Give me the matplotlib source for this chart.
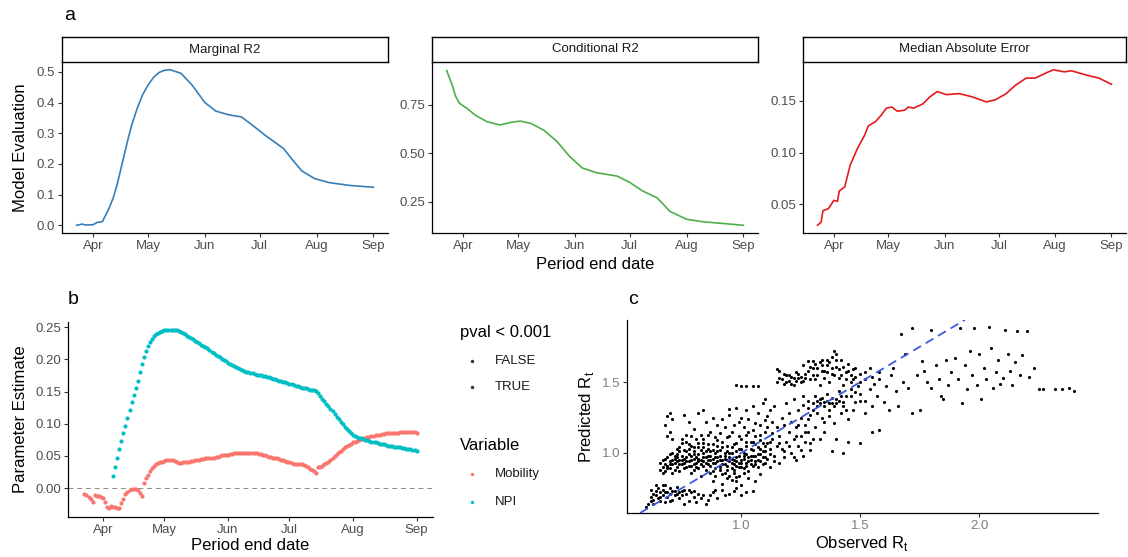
import numpy as np
import pandas as pd
import matplotlib
matplotlib.use("Agg")
import matplotlib.pyplot as plt
import matplotlib.dates as mdates

plt.rcParams['font.family'] = ['Liberation Sans', 'DejaVu Sans']

# ---------------- Panel a data ----------------
marg_dates = ["2020-03-23", "2020-03-26", "2020-03-28", "2020-04-01", "2020-04-03", "2020-04-06",
              "2020-04-08", "2020-04-10", "2020-04-12", "2020-04-14", "2020-04-16", "2020-04-18",
              "2020-04-20", "2020-04-22", "2020-04-25", "2020-04-28", "2020-05-01", "2020-05-04",
              "2020-05-07", "2020-05-10", "2020-05-13", "2020-05-19",
              "2020-05-25", "2020-06-01", "2020-06-07", "2020-06-14", "2020-06-21", "2020-06-27",
              "2020-07-04", "2020-07-14", "2020-07-19", "2020-07-24", "2020-07-31", "2020-08-08",
              "2020-08-19", "2020-09-01"]
marg_r2 = [0.000, 0.004, 0.001, 0.002, 0.009, 0.012, 0.035, 0.060, 0.090, 0.130, 0.180, 0.230,
           0.280, 0.325, 0.380, 0.425, 0.457, 0.482, 0.498, 0.505, 0.507, 0.495,
           0.457, 0.400, 0.372, 0.360, 0.353, 0.326,
           0.293, 0.250, 0.212, 0.177, 0.152, 0.139, 0.130, 0.124]

cond_dates = ["2020-03-23", "2020-03-26", "2020-03-28", "2020-03-30", "2020-04-03", "2020-04-08",
              "2020-04-14", "2020-04-21", "2020-04-27", "2020-05-02", "2020-05-08", "2020-05-15",
              "2020-05-22", "2020-05-29", "2020-06-05", "2020-06-13", "2020-06-24", "2020-07-01",
              "2020-07-08", "2020-07-16", "2020-07-23", "2020-08-01", "2020-08-10", "2020-08-21",
              "2020-09-01"]
cond_r2 = [0.928, 0.853, 0.793, 0.759, 0.733, 0.695, 0.664, 0.647, 0.660, 0.667, 0.655, 0.620,
           0.564, 0.486, 0.425, 0.400, 0.383, 0.350, 0.306, 0.270, 0.200, 0.160, 0.147, 0.138,
           0.129]

mae_dates = ["2020-03-23", "2020-03-25", "2020-03-26", "2020-03-29", "2020-04-01", "2020-04-03",
             "2020-04-04", "2020-04-07", "2020-04-10", "2020-04-14", "2020-04-18", "2020-04-20",
             "2020-04-24", "2020-04-27", "2020-04-30", "2020-05-03", "2020-05-06", "2020-05-10",
             "2020-05-12", "2020-05-15", "2020-05-20", "2020-05-24", "2020-05-28", "2020-06-02",
             "2020-06-09", "2020-06-16", "2020-06-24", "2020-06-29", "2020-07-05", "2020-07-10",
             "2020-07-16", "2020-07-21", "2020-07-27", "2020-07-31", "2020-08-06", "2020-08-10",
             "2020-08-18", "2020-08-25", "2020-09-01"]
mae_vals = [0.030, 0.033, 0.044, 0.046, 0.054, 0.053, 0.063, 0.067, 0.088, 0.104, 0.117, 0.126,
            0.130, 0.136, 0.143, 0.144, 0.140, 0.141, 0.144, 0.143, 0.147, 0.154, 0.159, 0.156,
            0.157, 0.154, 0.149, 0.151, 0.157, 0.165, 0.172, 0.172, 0.177, 0.180, 0.178, 0.179,
            0.175, 0.172, 0.166]

# ---------------- Panel b data (daily) ----------------
mob_start, mob_end = "2020-03-23", "2020-09-01"
mobility = [
    -0.009, -0.011, -0.014, -0.017, -0.021, -0.011, -0.012, -0.013, -0.014,
    -0.016, -0.022, -0.030, -0.031, -0.028, -0.029, -0.030, -0.031, -0.031, -0.024,
    -0.017, -0.010, -0.006, -0.003, -0.001, -0.001, -0.001, -0.003, -0.008, -0.013,
    0.008, 0.016, 0.021, 0.026, 0.031, 0.034, 0.037, 0.039, 0.040, 0.041,
    0.042, 0.043, 0.044, 0.044, 0.043, 0.042, 0.041, 0.039, 0.039, 0.040,
    0.040, 0.041, 0.041, 0.042, 0.042, 0.043, 0.043, 0.044, 0.045, 0.045,
    0.046, 0.046, 0.046, 0.046, 0.047, 0.048, 0.049, 0.050, 0.051, 0.051, 0.052,
    0.052, 0.053, 0.053, 0.054, 0.054, 0.054, 0.054, 0.054, 0.054, 0.054,
    0.055, 0.055, 0.054, 0.054, 0.054, 0.053, 0.053, 0.052, 0.051, 0.050,
    0.049, 0.048, 0.047, 0.047, 0.046, 0.045, 0.044, 0.043, 0.042, 0.041,
    0.040, 0.039, 0.038, 0.038, 0.037, 0.038, 0.038, 0.036, 0.034, 0.032,
    0.030, 0.028, 0.026, 0.024, 0.032, 0.033, 0.035, 0.037, 0.039, 0.041,
    0.044, 0.047, 0.050, 0.053, 0.056, 0.058, 0.061, 0.063, 0.065, 0.067, 0.069,
    0.071, 0.072, 0.073, 0.075, 0.076, 0.077, 0.078, 0.079, 0.080, 0.081,
    0.081, 0.082, 0.083, 0.083, 0.084, 0.084, 0.085, 0.085, 0.085, 0.086,
    0.086, 0.086, 0.086, 0.087, 0.087, 0.087, 0.087, 0.087, 0.087, 0.087, 0.087,
    0.086]

npi_start, npi_end = "2020-04-06", "2020-09-01"
npi = [
    0.019, 0.033, 0.047, 0.060, 0.073, 0.085, 0.097, 0.109, 0.121, 0.133,
    0.144, 0.155, 0.166, 0.180, 0.193, 0.204, 0.213, 0.221, 0.227, 0.232,
    0.236, 0.239, 0.241, 0.243, 0.244,
    0.245, 0.246, 0.246, 0.246, 0.246, 0.246, 0.245, 0.244, 0.243, 0.241,
    0.239, 0.237, 0.235, 0.233, 0.231, 0.229, 0.227, 0.225, 0.223, 0.221,
    0.219, 0.217, 0.214, 0.212, 0.210, 0.207, 0.205, 0.203, 0.201, 0.199, 0.197,
    0.195, 0.193, 0.191, 0.189, 0.188, 0.186, 0.185, 0.183, 0.182, 0.181,
    0.180, 0.179, 0.178, 0.177, 0.176, 0.175, 0.175, 0.174, 0.174, 0.173,
    0.172, 0.171, 0.170, 0.169, 0.168, 0.167, 0.166, 0.165, 0.164, 0.163,
    0.162, 0.161, 0.160, 0.159, 0.158, 0.157, 0.156, 0.155, 0.155, 0.154,
    0.153, 0.153, 0.152, 0.151, 0.147, 0.143, 0.139, 0.135, 0.131, 0.127,
    0.123, 0.119, 0.115, 0.111, 0.107, 0.103, 0.099, 0.095, 0.092, 0.089, 0.086,
    0.083, 0.081, 0.079, 0.078, 0.077, 0.076, 0.075, 0.074, 0.073, 0.072,
    0.071, 0.071, 0.070, 0.069, 0.068, 0.068, 0.067, 0.066, 0.066, 0.065,
    0.064, 0.064, 0.063, 0.063, 0.062, 0.062, 0.061, 0.060, 0.060, 0.059, 0.059,
    0.058]

# ---------------- Panel c data (observed, predicted) ----------------
rt_lowleft = [(0.60, 0.62), (0.61, 0.64), (0.62, 0.66), (0.62, 0.69), (0.63, 0.71), (0.63, 0.67),
              (0.64, 0.73), (0.64, 0.70), (0.65, 0.68), (0.65, 0.75), (0.66, 0.72), (0.66, 0.66),
              (0.67, 0.74), (0.67, 0.70), (0.68, 0.77), (0.68, 0.65), (0.69, 0.72), (0.69, 0.69),
              (0.70, 0.75), (0.70, 0.71), (0.71, 0.67), (0.72, 0.73), (0.72, 0.70), (0.73, 0.76),
              (0.74, 0.68), (0.74, 0.72), (0.75, 0.70), (0.76, 0.74), (0.77, 0.71), (0.78, 0.66),
              (0.79, 0.72), (0.80, 0.69), (0.82, 0.71), (0.84, 0.70), (0.86, 0.67), (0.88, 0.72),
              (0.90, 0.68), (0.92, 0.74), (0.95, 0.71), (0.98, 0.75), (1.02, 0.72), (1.05, 0.73),
              (0.76, 0.64), (0.81, 0.65), (0.85, 0.64),
              (0.62, 0.74), (0.63, 0.64), (0.64, 0.77), (0.66, 0.69), (0.67, 0.77), (0.68, 0.72),
              (0.70, 0.66), (0.71, 0.73), (0.73, 0.71), (0.75, 0.73), (0.78, 0.74), (0.80, 0.73),
              (0.83, 0.68), (0.87, 0.70), (0.89, 0.74), (0.93, 0.70), (0.97, 0.73), (1.00, 0.70)]
rt_core = [(0.66, 0.88), (0.67, 0.90), (0.67, 0.95), (0.68, 0.92), (0.68, 0.87), (0.69, 0.97),
           (0.69, 0.91), (0.70, 0.89), (0.70, 0.94), (0.71, 1.00), (0.71, 0.86), (0.72, 0.93),
           (0.72, 0.98), (0.73, 0.90), (0.73, 1.03), (0.74, 0.95), (0.74, 0.87), (0.75, 1.07),
           (0.75, 0.92), (0.69, 1.12), (0.70, 1.15), (0.71, 1.10), (0.68, 1.20), (0.69, 1.26),
           (0.70, 1.28), (0.71, 1.24),
           (0.76, 0.96), (0.76, 1.02), (0.77, 0.90), (0.77, 1.08), (0.78, 0.94), (0.78, 0.99),
           (0.79, 1.05), (0.79, 0.86), (0.80, 0.92), (0.80, 1.01), (0.81, 0.97), (0.81, 1.10),
           (0.82, 0.89), (0.82, 1.04), (0.83, 0.95), (0.83, 0.84), (0.84, 1.00), (0.84, 1.07),
           (0.85, 0.93), (0.85, 0.88), (0.77, 1.13), (0.80, 1.17), (0.83, 1.13), (0.78, 1.22),
           (0.82, 1.28),
           (0.86, 0.98), (0.86, 1.03), (0.87, 0.91), (0.87, 0.95), (0.88, 1.06), (0.88, 0.87),
           (0.89, 1.00), (0.89, 0.93), (0.90, 0.97), (0.90, 1.09), (0.91, 0.90), (0.91, 1.02),
           (0.92, 0.95), (0.92, 0.85), (0.93, 1.00), (0.93, 0.92), (0.94, 1.05), (0.94, 0.88),
           (0.95, 0.97), (0.95, 1.12), (0.87, 1.15), (0.90, 1.20), (0.93, 1.18), (0.88, 0.80),
           (0.92, 0.78), (0.94, 0.82),
           (0.96, 0.93), (0.96, 1.00), (0.97, 0.86), (0.97, 1.06), (0.98, 0.91), (0.98, 0.97),
           (0.99, 1.03), (0.99, 0.84), (1.00, 0.95), (1.00, 1.10), (1.01, 0.89), (1.01, 1.00),
           (1.02, 0.93), (1.02, 1.05), (1.03, 0.87), (1.03, 1.15), (1.04, 0.98), (1.04, 0.92),
           (1.05, 1.02), (1.05, 1.08), (0.97, 1.20), (1.00, 1.25), (1.02, 1.30), (0.98, 1.32),
           (1.01, 1.18), (0.98, 0.80), (1.00, 0.77), (1.03, 0.82),
           (1.06, 0.94), (1.06, 1.12), (1.07, 0.90), (1.07, 1.04), (1.08, 0.99), (1.08, 1.20),
           (1.09, 0.92), (1.09, 1.07), (1.10, 1.01), (1.10, 1.15), (1.11, 0.96), (1.11, 1.26),
           (1.12, 1.03), (1.12, 0.90), (1.13, 1.10), (1.13, 1.22), (1.14, 0.98), (1.14, 1.33),
           (1.15, 1.05), (1.15, 1.18), (1.07, 1.28), (1.09, 1.35), (1.12, 1.30), (1.08, 0.85),
           (1.06, 0.80)]
rt_core_extra = [(0.72, 0.96), (0.73, 0.99), (0.74, 1.01), (0.76, 0.93), (0.77, 0.97), (0.78, 1.03),
                 (0.79, 0.91), (0.80, 0.96), (0.81, 0.93), (0.82, 0.99), (0.83, 1.02), (0.84, 0.94),
                 (0.85, 0.97), (0.86, 0.92), (0.87, 1.01), (0.88, 0.96), (0.89, 0.89), (0.90, 0.94),
                 (0.91, 0.98), (0.92, 1.04), (0.93, 0.96), (0.94, 0.91), (0.95, 0.94), (0.96, 0.89),
                 (0.97, 0.95), (0.98, 1.01), (0.99, 0.93), (1.00, 0.90), (1.01, 0.96), (1.02, 0.99),
                 (1.03, 0.94), (1.04, 1.08), (1.05, 0.91), (1.06, 0.98), (1.07, 0.95), (1.08, 1.03),
                 (1.09, 0.97), (1.10, 0.93), (1.11, 1.07), (1.12, 0.99), (0.93, 0.86), (0.95, 0.84),
                 (0.97, 0.88), (0.99, 0.90), (1.01, 0.86), (0.96, 0.81), (0.98, 0.83), (0.91, 0.88),
                 (0.89, 0.84), (0.87, 0.86), (0.84, 0.91), (0.82, 0.94), (0.80, 0.88), (0.79, 0.98),
                 (0.77, 1.01), (0.75, 0.98), (0.74, 1.04), (0.73, 0.94), (0.71, 0.92), (0.70, 0.99)]
rt_core_more = [(0.66, 0.93), (0.67, 0.86), (0.68, 0.96), (0.69, 0.89), (0.70, 0.92), (0.71, 0.95),
                (0.72, 0.88), (0.73, 0.97), (0.74, 0.92), (0.75, 0.95), (0.76, 0.89), (0.77, 0.94),
                (0.78, 0.91), (0.79, 0.95), (0.80, 0.99), (0.81, 0.90), (0.82, 0.96), (0.83, 0.92),
                (0.84, 0.97), (0.85, 1.01), (0.86, 0.95), (0.87, 0.98), (0.88, 0.93), (0.89, 0.97),
                (0.90, 1.01), (0.91, 0.95), (0.92, 0.92), (0.93, 0.98), (0.94, 0.95), (0.95, 1.00),
                (0.96, 0.96), (0.97, 0.92), (0.98, 0.94), (0.99, 0.98), (1.00, 0.93), (1.01, 0.98),
                (1.02, 0.91), (1.03, 0.97), (1.04, 0.95), (1.05, 0.98), (1.06, 0.92), (1.07, 0.99),
                (1.08, 0.94), (1.09, 1.01), (1.10, 0.97),
                (0.78, 1.06), (0.80, 1.04), (0.82, 1.07), (0.84, 1.04), (0.86, 1.06), (0.88, 1.02),
                (0.90, 1.05), (0.92, 1.08), (0.94, 1.01), (0.96, 1.04), (0.98, 1.07), (1.00, 1.03),
                (1.02, 1.08), (1.04, 1.03), (1.06, 1.06), (1.08, 1.09), (1.10, 1.05), (1.12, 1.08),
                (0.75, 1.10), (0.79, 1.12), (0.84, 1.10), (0.86, 1.13), (0.89, 1.11), (0.91, 1.14),
                (0.94, 1.11), (0.96, 1.15), (0.99, 1.12), (1.02, 1.13), (1.05, 1.16), (1.08, 1.13),
                (1.11, 1.18), (1.13, 1.14),
                (0.85, 1.22), (0.88, 1.25), (0.92, 1.24), (0.95, 1.27), (0.99, 1.22), (1.03, 1.24),
                (1.06, 1.21), (1.10, 1.23), (0.95, 1.31), (1.05, 1.33), (1.10, 1.38), (0.84, 1.30),
                (0.76, 1.27)]
rt_mid = [(1.16, 0.93), (1.16, 1.12), (1.17, 1.25), (1.17, 1.03), (1.18, 0.97), (1.18, 1.20),
          (1.19, 1.08), (1.19, 1.35), (1.20, 1.15), (1.20, 1.28), (1.21, 1.00), (1.21, 1.22),
          (1.22, 1.10), (1.22, 1.38), (1.23, 0.95), (1.23, 1.18), (1.24, 1.05), (1.24, 1.30),
          (1.25, 1.12), (1.25, 1.25), (1.26, 0.98), (1.26, 1.40), (1.27, 1.08), (1.27, 1.20),
          (1.28, 1.32), (1.28, 1.15), (1.29, 1.02), (1.29, 1.27), (1.30, 1.35), (1.30, 1.10),
          (1.31, 1.40), (1.32, 1.33), (1.33, 1.38), (1.34, 1.25), (1.35, 1.36), (1.36, 1.42),
          (1.37, 1.30), (1.38, 1.35), (1.39, 1.21), (1.40, 1.38), (1.41, 1.44), (1.42, 1.28),
          (1.43, 1.33), (1.44, 1.40), (1.45, 1.24), (1.46, 1.45), (1.47, 1.30), (1.48, 1.36),
          (1.50, 1.42), (1.52, 1.28), (1.35, 1.15), (1.40, 1.10), (1.45, 1.08), (1.50, 1.07),
          (1.38, 1.01), (1.43, 1.00), (1.55, 1.15), (1.58, 1.16),
          (1.26, 1.34), (1.28, 1.37), (1.30, 1.30), (1.32, 1.37), (1.33, 1.35), (1.34, 1.39),
          (1.35, 1.33), (1.36, 1.37), (1.37, 1.35), (1.38, 1.39), (1.39, 1.33), (1.40, 1.35),
          (1.41, 1.37), (1.42, 1.40), (1.43, 1.36), (1.44, 1.30), (1.46, 1.40), (1.48, 1.43),
          (1.50, 1.37), (1.20, 1.05), (1.23, 1.12), (1.25, 1.02), (1.27, 1.15), (1.29, 1.07),
          (1.31, 1.18), (1.33, 1.10), (1.35, 1.22), (1.37, 1.26), (1.22, 0.97), (1.18, 1.01),
          (1.14, 0.94), (1.16, 1.07), (1.24, 1.20), (1.28, 1.24), (1.32, 1.28)]
rt_band = [(1.15, 1.50), (1.16, 1.58), (1.17, 1.52), (1.18, 1.49), (1.19, 1.55), (1.20, 1.51),
           (1.21, 1.54), (1.22, 1.48), (1.23, 1.57), (1.24, 1.53), (1.25, 1.50), (1.26, 1.62),
           (1.27, 1.56), (1.28, 1.65), (1.29, 1.52), (1.30, 1.60), (1.31, 1.63), (1.32, 1.55),
           (1.33, 1.48), (1.34, 1.66), (1.35, 1.58), (1.36, 1.62), (1.37, 1.50), (1.38, 1.68),
           (1.38, 1.56), (1.39, 1.72), (1.40, 1.61), (1.41, 1.53), (1.42, 1.66), (1.43, 1.48),
           (1.44, 1.57), (1.45, 1.63), (1.46, 1.50), (1.47, 1.59), (1.48, 1.54), (1.49, 1.47),
           (1.50, 1.56), (1.52, 1.52), (1.54, 1.60), (1.56, 1.49), (1.58, 1.57),
           (0.98, 1.48), (1.00, 1.47), (1.02, 1.47), (1.05, 1.47), (1.07, 1.47), (1.15, 1.59),
           (1.16, 1.53), (1.18, 1.56), (1.19, 1.50), (1.20, 1.55), (1.21, 1.49), (1.22, 1.53),
           (1.23, 1.51), (1.24, 1.56), (1.25, 1.54), (1.26, 1.51), (1.27, 1.53), (1.28, 1.58),
           (1.29, 1.61), (1.30, 1.55), (1.31, 1.52), (1.32, 1.60), (1.33, 1.64), (1.34, 1.58),
           (1.35, 1.53), (1.36, 1.57), (1.37, 1.64), (1.38, 1.60), (1.39, 1.55), (1.40, 1.66),
           (1.41, 1.59), (1.42, 1.55), (1.43, 1.61), (1.44, 1.52), (1.45, 1.58), (1.46, 1.55),
           (1.47, 1.52), (1.48, 1.60), (1.50, 1.50), (1.52, 1.57), (1.55, 1.54), (1.30, 1.65),
           (1.34, 1.62), (1.36, 1.66), (1.40, 1.70)]
rt_right = [(1.52, 1.37), (1.54, 1.45), (1.55, 1.33), (1.57, 1.40), (1.58, 1.52), (1.60, 1.36),
            (1.61, 1.47), (1.62, 1.30), (1.63, 1.55), (1.65, 1.44), (1.66, 1.33), (1.67, 1.84),
            (1.68, 1.50), (1.70, 1.46), (1.72, 1.88), (1.72, 1.28), (1.74, 1.55), (1.75, 1.30),
            (1.77, 1.58), (1.78, 1.50), (1.80, 1.87), (1.80, 1.46), (1.82, 1.62), (1.83, 1.52),
            (1.85, 1.38), (1.86, 1.66), (1.87, 1.48), (1.88, 1.57), (1.90, 1.67), (1.91, 1.52),
            (1.92, 1.88), (1.93, 1.35), (1.94, 1.62), (1.95, 1.45), (1.96, 1.72), (1.97, 1.55),
            (1.98, 1.88), (1.99, 1.48), (2.00, 1.70), (2.01, 1.38), (2.02, 1.60), (2.03, 1.52),
            (2.04, 1.89), (2.05, 1.74), (2.06, 1.46), (2.07, 1.57), (2.08, 1.66), (2.09, 1.49),
            (2.10, 1.53), (2.11, 1.87), (2.12, 1.70), (2.13, 1.58), (2.14, 1.48), (2.15, 1.64),
            (2.16, 1.86), (2.17, 1.55), (2.18, 1.69), (2.20, 1.86), (2.21, 1.54), (2.23, 1.60),
            (2.25, 1.45), (2.27, 1.45), (2.32, 1.45), (2.35, 1.45), (2.38, 1.46), (2.40, 1.44),
            (1.64, 1.60), (1.69, 1.70), (1.76, 1.65), (1.84, 1.40)]

# ---------------- styling ----------------
W, H = 1128, 557
C_BLUE, C_GREEN, C_RED = "#377EB8", "#4DAF4A", "#E41A1C"
C_MOB, C_NPI = "#F8766D", "#00BFC4"
TICK_C = "#4D4D4D"
FS_TICK, FS_TITLE, FS_STRIP, FS_PANEL = 9.5, 12, 9.5, 14

fig = plt.figure(figsize=(W / 100, H / 100), dpi=100)


def px_axes(l, t, r, b):
    return fig.add_axes([l / W, 1 - b / H, (r - l) / W, (b - t) / H])


def style(ax):
    for s in ("top", "right"):
        ax.spines[s].set_visible(False)
    for s in ("left", "bottom"):
        ax.spines[s].set_linewidth(0.9)
        ax.spines[s].set_color("black")
    ax.tick_params(direction="out", length=3, width=0.8, color="#333333",
                   labelcolor=TICK_C, labelsize=FS_TICK, pad=2)


def set_labels(ax, l, t, r, b, ylabel=None, ylab_right=None, xlabel=None, xlab_top=None):
    if ylabel is not None:
        ax.set_ylabel(ylabel, fontsize=FS_TITLE, color="black")
        ax.yaxis.set_label_coords((ylab_right - l) / (r - l), 0.5)
    if xlabel is not None:
        ax.set_xlabel(xlabel, fontsize=FS_TITLE, color="black")
        ax.xaxis.set_label_coords(0.5, (b - xlab_top) / (b - t))


def strip(l, r, label):
    s = px_axes(l, 37, r, 62)
    s.set_xticks([])
    s.set_yticks([])
    for sp in s.spines.values():
        sp.set_linewidth(1.0)
        sp.set_color("black")
    s.text(0.5, 0.5, label, ha="center", va="center", fontsize=FS_STRIP, color="#1A1A1A",
           transform=s.transAxes)


xlim_dates = (mdates.date2num(pd.Timestamp("2020-03-15")), mdates.date2num(pd.Timestamp("2020-09-09")))
month_ticks = [pd.Timestamp(f"2020-{m:02d}-01") for m in range(4, 10)]


def date_axis(ax):
    ax.set_xlim(*xlim_dates)
    ax.set_xticks([mdates.date2num(t) for t in month_ticks])
    ax.xaxis.set_major_formatter(mdates.DateFormatter("%b"))


# Panel a
panels = [
    (62, 388, "Marginal R2", marg_dates, marg_r2, C_BLUE, (-0.025, 0.532), [0, 0.1, 0.2, 0.3, 0.4, 0.5], "{:.1f}"),
    (432, 758, "Conditional R2", cond_dates, cond_r2, C_GREEN, (0.089, 0.972), [0.25, 0.50, 0.75], "{:.2f}"),
    (803, 1126, "Median Absolute Error", mae_dates, mae_vals, C_RED, (0.0225, 0.1875), [0.05, 0.10, 0.15], "{:.2f}"),
]
for l, r, title, d, v, col, yl, yt, fmt in panels:
    ax = px_axes(l, 62, r, 233)
    style(ax)
    ax.plot(pd.to_datetime(d), v, color=col, lw=1.2)
    date_axis(ax)
    ax.set_ylim(*yl)
    ax.set_yticks(yt)
    ax.set_yticklabels([fmt.format(t) for t in yt])
    strip(l, r, title)
    if title == "Marginal R2":
        set_labels(ax, l, 62, r, 233, ylabel="Model Evaluation", ylab_right=28)
    if title == "Conditional R2":
        set_labels(ax, l, 62, r, 233, xlabel="Period end date", xlab_top=257)

fig.text(64 / W, 1 - 15 / H, "a", fontsize=FS_PANEL, va="center", ha="left")

# Panel b
axb = px_axes(68, 322, 433, 517)
style(axb)
mob_dates = pd.date_range(mob_start, mob_end, freq="D")
npi_dates = pd.date_range(npi_start, npi_end, freq="D")
axb.axhline(0, color="#8C8C8C", lw=0.7, ls=(0, (5, 4)), zorder=1)
axb.scatter(mob_dates, mobility, s=9, color=C_MOB, linewidths=0, zorder=2)
axb.scatter(npi_dates, npi, s=9, color=C_NPI, linewidths=0, zorder=3)
date_axis(axb)
axb.set_ylim(-0.045, 0.258)
yb = [0.0, 0.05, 0.10, 0.15, 0.20, 0.25]
axb.set_yticks(yb)
axb.set_yticklabels([f"{t:.2f}" for t in yb])
set_labels(axb, 68, 322, 433, 517, ylabel="Parameter Estimate", ylab_right=28,
           xlabel="Period end date", xlab_top=538)
fig.text(68 / W, 1 - 299 / H, "b", fontsize=FS_PANEL, va="center", ha="left")

# Legend
leg = fig.add_axes([0, 0, 1, 1])
leg.set_xlim(0, W)
leg.set_ylim(H, 0)
leg.axis("off")
leg.patch.set_alpha(0)
leg.text(460, 333, "pval < 0.001", fontsize=FS_TITLE, va="center", ha="left")
leg.scatter([472, 472], [361, 387], s=6, color="#333333", linewidths=0)
leg.text(495, 361, "FALSE", fontsize=FS_TICK, va="center", ha="left", color="#1A1A1A")
leg.text(495, 387, "TRUE", fontsize=FS_TICK, va="center", ha="left", color="#1A1A1A")
leg.text(460, 445, "Variable", fontsize=FS_TITLE, va="center", ha="left")
leg.scatter([472], [474], s=6, color=C_MOB, linewidths=0)
leg.scatter([472], [502], s=6, color=C_NPI, linewidths=0)
leg.text(495, 474, "Mobility", fontsize=FS_TICK, va="center", ha="left", color="#1A1A1A")
leg.text(495, 502, "NPI", fontsize=FS_TICK, va="center", ha="left", color="#1A1A1A")

# Panel c
pts = rt_lowleft + rt_core + rt_core_extra + rt_core_more + rt_mid + rt_band + rt_right
obs_rt = [p[0] for p in pts]
pred_rt = [p[1] for p in pts]
axc = px_axes(627, 320, 1098, 513)
style(axc)
axc.scatter(obs_rt, pred_rt, s=5, color="black", linewidths=0, zorder=2)
axc.axline((1.0, 1.0), slope=1, color="#3B5BDB", lw=1.3, ls=(0, (5, 3)), zorder=3)
axc.set_xlim(0.52, 2.5)
axc.set_ylim(0.575, 1.94)
axc.set_xticks([1.0, 1.5, 2.0])
axc.set_yticks([1.0, 1.5])
axc.set_xticklabels(["1.0", "1.5", "2.0"])
axc.set_yticklabels(["1.0", "1.5"])
axc.tick_params(labelcolor="#7F7F7F")
set_labels(axc, 627, 320, 1098, 513, ylabel=r"Predicted R$_\mathregular{t}$", ylab_right=596,
           xlabel=r"Observed R$_\mathregular{t}$", xlab_top=534)
fig.text(628 / W, 1 - 299 / H, "c", fontsize=FS_PANEL, va="center", ha="left")

fig.savefig("out.png", dpi=100)
